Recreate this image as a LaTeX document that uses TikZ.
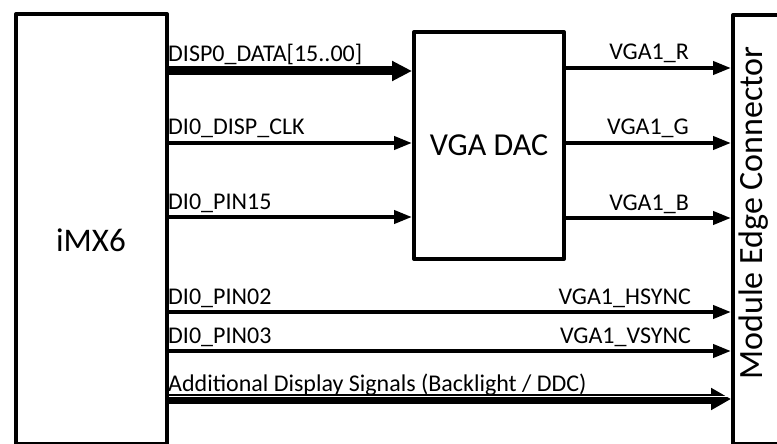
\documentclass[tikz,border=0pt]{standalone}
\usepackage{fontspec}
\setmainfont{Carlito}
\usetikzlibrary{arrows.meta}
\begin{document}
\begin{tikzpicture}[x=1pt,y=-1pt,
  box/.style={draw,line width=4pt,line join=round,inner sep=0pt,anchor=north west,font=\fontsize{32}{32}\selectfont},
  sig/.style={line width=4pt,-{Triangle[length=18pt,width=13pt]}},
  bus/.style={line width=9pt,-{Triangle[length=20pt,width=19pt]}},
  lbl/.style={inner sep=0pt,font=\fontsize{24}{24}\selectfont}]
\useasboundingbox (0,0) rectangle (777,444);
\begin{scope}
\clip (0,0) rectangle (777,444);
\node[box,minimum width=151pt,minimum height=430pt] (imx) at (14,12) {};
\node[font=\fontsize{33}{33}\selectfont] (imxl) at (91,240) {iMX6};
\node[box,minimum width=150pt,minimum height=227pt] (dac) at (412,30) {VGA DAC};
\node[box,minimum width=70pt,minimum height=429pt] (con) at (731,13) {};
\node[rotate=90,font=\fontsize{34}{34}\selectfont] (conl) at (754,213) {Module Edge Connector};

% inputs to DAC
\draw[bus] (imx.east |- 0,71) -- (dac.west |- 0,71);
\draw[sig] (imx.east |- 0,143) -- (dac.west |- 0,143);
\draw[sig] (imx.east |- 0,217) -- (dac.west |- 0,217);
\node[lbl,anchor=base west] (l1) at (168,62) {DISP0\_DATA[15..00]};
\node[lbl,anchor=base west] (l2) at (168,135) {DI0\_DISP\_CLK};
\node[lbl,anchor=base west] (l3) at (168,209) {DI0\_PIN15};

% DAC outputs
\draw[sig] (dac.east |- 0,68) -- (con.west |- 0,68);
\draw[sig] (dac.east |- 0,143) -- (con.west |- 0,143);
\draw[sig] (dac.east |- 0,218) -- (con.west |- 0,218);
\node[lbl,anchor=base east] (r1) at (689,60) {VGA1\_R};
\node[lbl,anchor=base east] (r2) at (689,135) {VGA1\_G};
\node[lbl,anchor=base east] (r3) at (689,210) {VGA1\_B};

% direct signals
\draw[sig] (imx.east |- 0,312) -- (con.west |- 0,312);
\draw[sig] (imx.east |- 0,351) -- (con.west |- 0,351);
\node[lbl,anchor=base west] (l4) at (168,304) {DI0\_PIN02};
\node[lbl,anchor=base west] (l5) at (168,343) {DI0\_PIN03};
\node[lbl,anchor=base east] (r4) at (691,304) {VGA1\_HSYNC};
\node[lbl,anchor=base east] (r5) at (691,343) {VGA1\_VSYNC};

\draw[line width=10pt,-{Triangle[length=20pt,width=21pt]}] (imx.east |- 0,399) -- (con.west |- 0,399);
\draw[white,line width=1pt] (imx.east |- 0,396.5) -- (con.west |- 0,396.5);
\node[lbl,anchor=base west] (l6) at (168,391) {Additional Display Signals (Backlight / DDC)};
\end{scope}
\end{tikzpicture}
\end{document}
